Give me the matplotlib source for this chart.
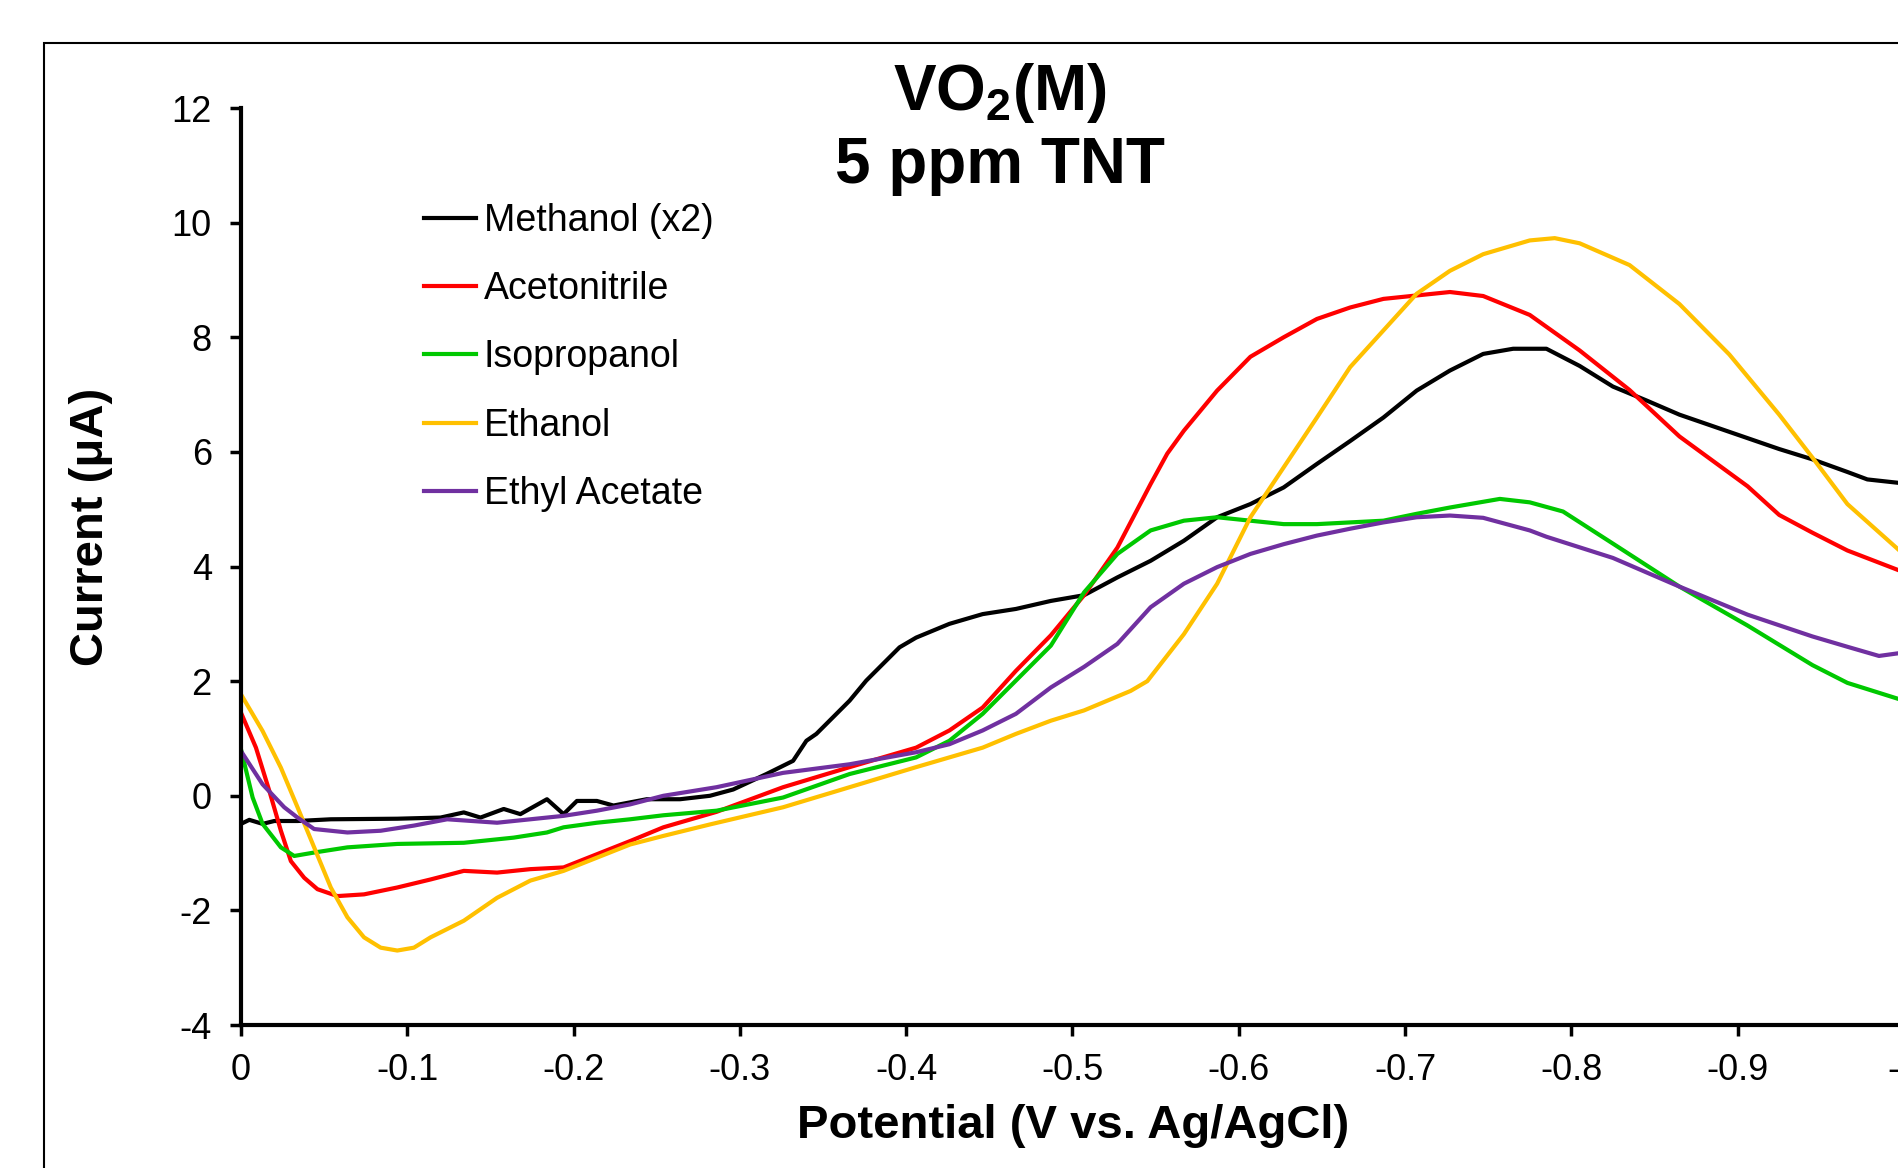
import matplotlib
matplotlib.use("Agg")
import matplotlib.pyplot as plt
from matplotlib.patches import Rectangle
from matplotlib.ticker import FuncFormatter
import numpy as np

plt.rcParams['font.family'] = ['Liberation Sans', 'DejaVu Sans']
plt.rcParams['axes.unicode_minus'] = False
plt.rcParams['mathtext.fontset'] = 'custom'
plt.rcParams['mathtext.rm'] = 'Liberation Sans'
plt.rcParams['mathtext.bf'] = 'Liberation Sans:bold'

# Methanol (x2)
meoh_x = [0, -0.005, -0.013, -0.02, -0.034, -0.054, -0.094, -0.12, -0.134, -0.144,
          -0.158, -0.168, -0.184, -0.194, -0.202, -0.214, -0.224, -0.244, -0.264, -0.282,
          -0.296, -0.316, -0.332, -0.34, -0.346, -0.356, -0.366, -0.376, -0.386, -0.396,
          -0.406, -0.416, -0.426, -0.446, -0.466, -0.487, -0.507, -0.527, -0.547, -0.567,
          -0.587, -0.607, -0.627, -0.647, -0.667, -0.687, -0.707, -0.727, -0.747, -0.765,
          -0.785, -0.805, -0.825, -0.845, -0.865, -0.885, -0.906, -0.925, -0.945, -0.966,
          -0.978, -1.0]
meoh_y = [-0.49, -0.42, -0.49, -0.44, -0.44, -0.41, -0.40, -0.38, -0.29, -0.38,
          -0.23, -0.32, -0.06, -0.32, -0.09, -0.09, -0.17, -0.06, -0.06, 0.0,
          0.11, 0.38, 0.61, 0.96, 1.08, 1.37, 1.66, 2.01, 2.30, 2.59,
          2.76, 2.88, 3.00, 3.17, 3.26, 3.40, 3.50, 3.81, 4.10, 4.45,
          4.86, 5.09, 5.38, 5.79, 6.19, 6.60, 7.07, 7.42, 7.71, 7.80,
          7.80, 7.50, 7.14, 6.90, 6.65, 6.45, 6.24, 6.05, 5.87, 5.65,
          5.52, 5.45]

# Acetonitrile
acn_x = [0, -0.009, -0.017, -0.024, -0.03, -0.038, -0.046, -0.058, -0.074, -0.094,
         -0.114, -0.134, -0.154, -0.174, -0.194, -0.214, -0.234, -0.254, -0.286, -0.326,
         -0.366, -0.406, -0.426, -0.446, -0.466, -0.487, -0.507, -0.527, -0.547, -0.557,
         -0.567, -0.587, -0.607, -0.627, -0.647, -0.667, -0.687, -0.707, -0.727, -0.747,
         -0.775, -0.805, -0.835, -0.865, -0.906, -0.925, -0.945, -0.966, -1.0]
acn_y = [1.45, 0.84, 0.09, -0.61, -1.14, -1.43, -1.63, -1.75, -1.72, -1.60,
         -1.46, -1.31, -1.34, -1.28, -1.25, -1.02, -0.79, -0.55, -0.28, 0.15,
         0.50, 0.84, 1.14, 1.54, 2.18, 2.80, 3.50, 4.33, 5.44, 5.97,
         6.37, 7.07, 7.66, 8.00, 8.32, 8.52, 8.67, 8.73, 8.79, 8.72,
         8.39, 7.77, 7.08, 6.27, 5.40, 4.90, 4.59, 4.28, 3.90]

# Isopropanol
ipa_x = [0, -0.007, -0.013, -0.024, -0.032, -0.044, -0.064, -0.094, -0.134, -0.164,
         -0.184, -0.194, -0.214, -0.234, -0.254, -0.286, -0.326, -0.366, -0.406, -0.426,
         -0.446, -0.466, -0.487, -0.507, -0.527, -0.547, -0.567, -0.587, -0.607, -0.627,
         -0.647, -0.667, -0.687, -0.707, -0.727, -0.757, -0.775, -0.795, -0.825, -0.865,
         -0.906, -0.945, -0.966, -1.0]
ipa_y = [0.81, -0.03, -0.49, -0.90, -1.05, -0.99, -0.90, -0.84, -0.82, -0.73,
         -0.64, -0.55, -0.47, -0.41, -0.34, -0.26, -0.03, 0.38, 0.67, 0.96,
         1.43, 2.01, 2.62, 3.55, 4.22, 4.63, 4.80, 4.86, 4.80, 4.74,
         4.74, 4.77, 4.80, 4.92, 5.03, 5.18, 5.12, 4.96, 4.40, 3.65,
         2.97, 2.28, 1.97, 1.66]

# Ethanol
etoh_x = [0, -0.013, -0.024, -0.034, -0.044, -0.054, -0.064, -0.074, -0.084, -0.094,
          -0.104, -0.114, -0.134, -0.154, -0.174, -0.194, -0.214, -0.234, -0.254, -0.282,
          -0.326, -0.366, -0.406, -0.446, -0.466, -0.487, -0.507, -0.535, -0.545, -0.567,
          -0.587, -0.607, -0.627, -0.647, -0.667, -0.687, -0.707, -0.727, -0.747, -0.775,
          -0.79, -0.805, -0.835, -0.865, -0.895, -0.925, -0.945, -0.966, -1.0]
etoh_y = [1.77, 1.13, 0.49, -0.20, -0.90, -1.60, -2.12, -2.47, -2.65, -2.70,
          -2.65, -2.47, -2.18, -1.78, -1.48, -1.31, -1.08, -0.85, -0.70, -0.50,
          -0.20, 0.15, 0.50, 0.84, 1.08, 1.31, 1.49, 1.83, 2.00, 2.82,
          3.70, 4.86, 5.73, 6.60, 7.48, 8.12, 8.76, 9.16, 9.45, 9.69,
          9.73, 9.64, 9.26, 8.58, 7.70, 6.65, 5.90, 5.09, 4.21]

# Ethyl Acetate
etac_x = [0, -0.013, -0.026, -0.034, -0.044, -0.064, -0.084, -0.104, -0.124, -0.154,
          -0.174, -0.194, -0.214, -0.234, -0.254, -0.286, -0.326, -0.366, -0.406, -0.426,
          -0.446, -0.466, -0.487, -0.507, -0.527, -0.547, -0.567, -0.587, -0.607, -0.627,
          -0.647, -0.667, -0.687, -0.707, -0.727, -0.747, -0.775, -0.785, -0.825, -0.865,
          -0.906, -0.945, -0.966, -0.985, -1.0]
etac_y = [0.78, 0.20, -0.20, -0.38, -0.58, -0.64, -0.61, -0.52, -0.41, -0.47,
          -0.41, -0.35, -0.26, -0.15, 0.00, 0.15, 0.40, 0.55, 0.76, 0.90,
          1.14, 1.43, 1.89, 2.25, 2.65, 3.29, 3.70, 3.99, 4.22, 4.39,
          4.54, 4.66, 4.77, 4.86, 4.89, 4.85, 4.63, 4.52, 4.15, 3.65,
          3.16, 2.78, 2.60, 2.44, 2.50]

labels = ['Methanol (x2)', 'Acetonitrile', 'Isopropanol', 'Ethanol', 'Ethyl Acetate']
colors = ['#000000', '#FF0000', '#00C800', '#FFC000', '#7030A0']
series = [(meoh_x, meoh_y), (acn_x, acn_y), (ipa_x, ipa_y), (etoh_x, etoh_y), (etac_x, etac_y)]

xticks = np.round(np.arange(0, -1.01, -0.1), 1)
yticks = np.arange(-4, 13, 2)

fig = plt.figure(figsize=(18.99, 11.68), dpi=100)
ax = fig.add_axes([0.1269, 0.1224, 0.8757, 0.7851])

for (xs, ys), lab, col in zip(series, labels, colors):
    ax.plot(xs, ys, color=col, lw=3.0, label=lab)

ax.set_xlim(0, -1.0)
ax.set_ylim(-4, 12)
ax.set_xticks(xticks)
ax.set_yticks(yticks)
ax.xaxis.set_major_formatter(FuncFormatter(lambda v, p: '{:g}'.format(round(v, 1)) if abs(v) > 1e-9 else '0'))
ax.yaxis.set_major_formatter(FuncFormatter(lambda v, p: '{:g}'.format(v)))

for s in ['top', 'right']:
    ax.spines[s].set_visible(False)
for s in ['left', 'bottom']:
    ax.spines[s].set_linewidth(3)
ax.tick_params(axis='both', direction='out', length=8, width=2.5, labelsize=26)
ax.tick_params(axis='x', pad=12)
ax.tick_params(axis='y', pad=13)

leg = ax.legend(loc='upper left', bbox_to_anchor=(424 / 1899, 1 - 203 / 1168),
                bbox_transform=fig.transFigure, frameon=False, fontsize=27,
                handlelength=1.4, handletextpad=0.2, labelspacing=0.86, borderpad=0,
                borderaxespad=0)

# title
fig.text(1000 / 1899, 1 - 110 / 1168, r'VO$_\mathbf{2}$(M)', ha='center', va='baseline',
         fontsize=46, fontweight='bold')
fig.text(1000 / 1899, 1 - 183 / 1168, '5 ppm TNT', ha='center', va='baseline',
         fontsize=46, fontweight='bold')

# axis labels
fig.text(91 / 1899, 1 - 527 / 1168, 'Current (μA)', rotation=90, ha='center', va='center',
         fontsize=34, fontweight='bold')
fig.text(1073 / 1899, 1 - 1126 / 1168, 'Potential (V vs. Ag/AgCl)', ha='center', va='center',
         fontsize=34, fontweight='bold')

# outer chart frame (continues past the right and bottom edges)
top = 1 - 43 / 1168
fig.patches.append(Rectangle((44 / 1899, -0.2), 1.2, top + 0.2, transform=fig.transFigure,
                             fill=False, edgecolor='black', lw=1.5))

plt.savefig('out.png', dpi=100)
plt.close()
